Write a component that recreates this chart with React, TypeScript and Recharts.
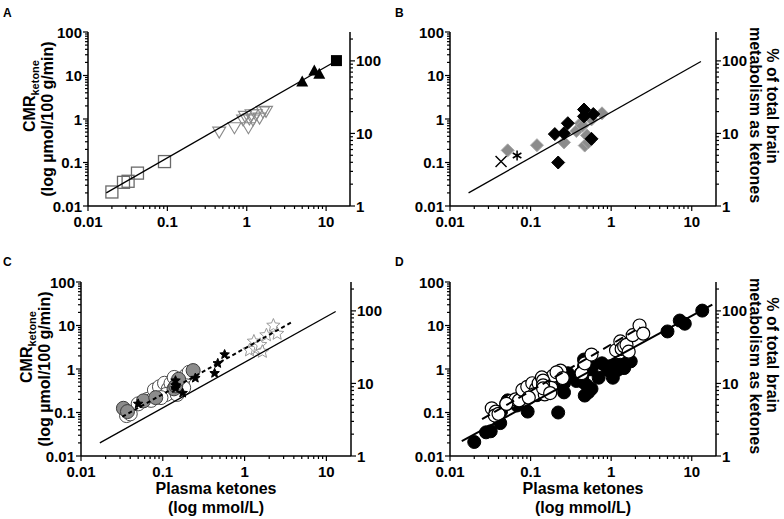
import React from 'react';
import { ScatterChart, Scatter, XAxis, YAxis, Label } from 'recharts';

type Pt = [number, number];

// Panel A
const aOpenSquares: Pt[] = [[0.02, 0.021], [0.028, 0.035], [0.032, 0.037], [0.042, 0.057], [0.092, 0.105]];
const aOpenTriangles: Pt[] = [
  [0.45, 0.5], [0.7, 0.63], [0.9, 0.95], [0.95, 1.15], [1.05, 0.63], [1.08, 1.0],
  [1.15, 1.25], [1.2, 0.95], [1.3, 1.25], [1.45, 1.05], [1.6, 1.45], [1.75, 1.5],
];
const aFilledTriangles: Pt[] = [[5, 7.3], [7.1, 13], [8.2, 11]];
const aFilledSquares: Pt[] = [[13.5, 22]];

// Panel B
const bBlackDiamonds: Pt[] = [
  [0.2, 0.45], [0.22, 0.1], [0.26, 0.47], [0.29, 0.8], [0.46, 1.65], [0.46, 1.15], [0.6, 1.3], [0.57, 0.35],
];
const bGrayDiamonds: Pt[] = [
  [0.052, 0.19], [0.12, 0.25], [0.26, 0.29], [0.37, 0.53], [0.42, 0.8], [0.44, 0.7],
  [0.47, 0.245], [0.5, 0.42], [0.52, 0.29], [0.57, 0.98], [0.77, 1.35],
];
const bCross: Pt[] = [[0.043, 0.105]];
const bAsterisk: Pt[] = [[0.068, 0.145]];

// Panel C
const cGrayCircles: Pt[] = [
  [0.033, 0.125], [0.037, 0.105], [0.058, 0.185], [0.082, 0.22], [0.137, 0.35], [0.144, 0.41], [0.156, 0.58], [0.235, 0.92],
];
const cOpenCircles: Pt[] = [
  [0.036, 0.085], [0.04, 0.093], [0.05, 0.158], [0.065, 0.2], [0.072, 0.19], [0.079, 0.33], [0.091, 0.39],
  [0.105, 0.47], [0.117, 0.35], [0.126, 0.47], [0.132, 0.29], [0.158, 0.35], [0.174, 0.52], [0.19, 0.7],
  [0.21, 0.84], [0.11, 0.26], [0.095, 0.22], [0.15, 0.26], [0.18, 0.37], [0.138, 0.64],
];
const cBlackStars: Pt[] = [
  [0.05, 0.158], [0.143, 0.54], [0.143, 0.42], [0.143, 0.36], [0.175, 0.28], [0.25, 0.62], [0.43, 0.8], [0.47, 1.35], [0.57, 2.15],
];
const cOpenStars: Pt[] = [
  [1.15, 2.7], [1.3, 4.3], [1.35, 2.9], [1.45, 3.3], [1.55, 3.6], [1.65, 2.5], [1.85, 6.0], [2.25, 10], [2.5, 6.5],
];

// regression lines (end points)
const solidFit: Pt[] = [[0.017, 0.02], [13, 21]];
const cDashedFit: Pt[] = [[0.032, 0.08], [3.8, 12]];
const dSolidFit: Pt[] = [[0.014, 0.022], [18, 30]];
const dDashedFit: Pt[] = [[0.025, 0.07], [2.3, 9]];

// Panel D pools the data of A+B (filled) and C (open)
const dFilled: Pt[] = [...aOpenSquares, ...aOpenTriangles, ...aFilledTriangles, ...aFilledSquares,
  ...bBlackDiamonds, ...bGrayDiamonds, ...bCross, ...bAsterisk];
const dOpen: Pt[] = [...cGrayCircles, ...cOpenCircles, ...cBlackStars, ...cOpenStars];

const xTicks = [0.01, 0.02, 0.03, 0.04, 0.05, 0.06, 0.07, 0.08, 0.09, 0.1, 0.2, 0.3, 0.4, 0.5, 0.6, 0.7, 0.8, 0.9, 1, 2, 3, 4, 5, 6, 7, 8, 9, 10];
const xMajor = [0.01, 0.1, 1, 10];
const leftTicks = [0.01, 0.02, 0.03, 0.04, 0.05, 0.06, 0.07, 0.08, 0.09, 0.1, 0.2, 0.3, 0.4, 0.5, 0.6, 0.7, 0.8, 0.9,
  1, 2, 3, 4, 5, 6, 7, 8, 9, 10, 20, 30, 40, 50, 60, 70, 80, 90, 100];
const leftMajor = [0.01, 0.1, 1, 10, 100];
const rightTicks = [1, 2, 3, 4, 5, 6, 7, 8, 9, 10, 20, 30, 40, 50, 60, 70, 80, 90, 100, 200];
const rightMajor = [1, 10, 100];

const FONT = '"Liberation Sans", Arial, Helvetica, sans-serif';
const AXIS = { stroke: '#000', strokeWidth: 1.5 };

const toXY = (pts: Pt[]) => pts.map(([x, y]) => ({ x, y }));

const tickText = { fontFamily: FONT, fontWeight: 700, fontSize: 15, fill: '#000' } as const;

const XTick = (props: any) => {
  const { x, y, payload } = props;
  const major = xMajor.includes(payload.value);
  return (
    <g>
      <line x1={x} x2={x} y1={y} y2={y + (major ? 5 : 3)} stroke="#000" strokeWidth={1.2} />
      {major && <text x={x} y={y + 21} textAnchor="middle" {...tickText}>{String(payload.value)}</text>}
    </g>
  );
};

const LeftTick = (props: any) => {
  const { x, y, payload } = props;
  const major = leftMajor.includes(payload.value);
  return (
    <g>
      <line x1={x} x2={x - (major ? 5 : 3)} y1={y} y2={y} stroke="#000" strokeWidth={1.2} />
      {major && <text x={x - 6} y={y + 5.5} textAnchor="end" {...tickText}>{String(payload.value)}</text>}
    </g>
  );
};

const RightTick = (props: any) => {
  const { x, y, payload } = props;
  const major = rightMajor.includes(payload.value);
  return (
    <g>
      <line x1={x} x2={x + (major ? 5 : 3)} y1={y} y2={y} stroke="#000" strokeWidth={1.2} />
      {major && <text x={x + 6} y={y + 5.5} textAnchor="start" {...tickText}>{String(payload.value)}</text>}
    </g>
  );
};

// marker shapes
const openSquare = ({ cx, cy }: any) => (
  <rect x={cx - 6} y={cy - 6} width={12} height={12} fill="none" stroke="#6a6a6a" strokeWidth={1.3} />
);
const openTriDown = ({ cx, cy }: any) => (
  <path d={`M${cx - 6.5},${cy - 5} L${cx + 6.5},${cy - 5} L${cx},${cy + 6} Z`} fill="none" stroke="#8a8a8a" strokeWidth={1.1} />
);
const filledTri = ({ cx, cy }: any) => (
  <path d={`M${cx},${cy - 6} L${cx + 6},${cy + 5} L${cx - 6},${cy + 5} Z`} fill="#000" />
);
const filledSquare = ({ cx, cy }: any) => (
  <rect x={cx - 5.5} y={cy - 5.5} width={11} height={11} fill="#000" />
);
const diamond = (fill: string, stroke: string) => ({ cx, cy }: any) => (
  <path d={`M${cx},${cy - 6.5} L${cx + 6.5},${cy} L${cx},${cy + 6.5} L${cx - 6.5},${cy} Z`} fill={fill} stroke={stroke} strokeWidth={1} />
);
const cross = ({ cx, cy }: any) => (
  <path d={`M${cx - 5.5},${cy - 5.5} L${cx + 5.5},${cy + 5.5} M${cx + 5.5},${cy - 5.5} L${cx - 5.5},${cy + 5.5}`} stroke="#000" strokeWidth={1.4} />
);
const asterisk = ({ cx, cy }: any) => (
  <path d={`M${cx},${cy - 5} L${cx},${cy + 5} M${cx - 4.3},${cy - 2.5} L${cx + 4.3},${cy + 2.5} M${cx - 4.3},${cy + 2.5} L${cx + 4.3},${cy - 2.5}`} stroke="#000" strokeWidth={1.5} />
);
const circle = (fill: string, stroke: string, r: number, sw = 1) => ({ cx, cy }: any) => (
  <circle cx={cx} cy={cy} r={r} fill={fill} stroke={stroke} strokeWidth={sw} />
);
const starPath = (cx: number, cy: number, R: number) => {
  let d = '';
  for (let i = 0; i < 10; i++) {
    const rr = i % 2 === 0 ? R : R * 0.45;
    const a = -Math.PI / 2 + (i * Math.PI) / 5;
    d += `${i === 0 ? 'M' : 'L'}${cx + rr * Math.cos(a)},${cy + rr * Math.sin(a)} `;
  }
  return d + 'Z';
};
const star = (fill: string, stroke: string, R: number) => ({ cx, cy }: any) => (
  <path d={starPath(cx, cy, R)} fill={fill} stroke={stroke} strokeWidth={1} />
);
const noDot = () => <g />;

const titleText = { fontFamily: FONT, fontWeight: 700, fontSize: 16, fill: '#000' } as const;

const LeftTitle = ({ x1, x2, cy1, cy2 }: { x1: number; x2: number; cy1: number; cy2: number }) => (
  <g>
    <text transform={`translate(${x1},${cy1}) rotate(-90)`} textAnchor="middle" {...titleText}>
      CMR<tspan fontSize={11} dy={4}>ketone</tspan>
    </text>
    <text transform={`translate(${x2},${cy2}) rotate(-90)`} textAnchor="middle" {...titleText}>
      (log µmol/100 g/min)
    </text>
  </g>
);

const RightTitle = ({ x1, x2, cy1, cy2 }: { x1: number; x2: number; cy1: number; cy2: number }) => (
  <g>
    <text transform={`translate(${x1},${cy1}) rotate(90)`} textAnchor="middle" {...titleText}>% of total brain</text>
    <text transform={`translate(${x2},${cy2}) rotate(90)`} textAnchor="middle" {...titleText}>metabolism as ketones</text>
  </g>
);

const BottomTitle = ({ cx }: { cx: number }) => (
  <g>
    <text x={cx} y={494} textAnchor="middle" {...titleText}>Plasma ketones</text>
    <text x={cx} y={513} textAnchor="middle" {...titleText}>(log mmol/L)</text>
  </g>
);

const Letter = ({ x, y, t }: { x: number; y: number; t: string }) => (
  <text x={x} y={y} fontFamily={FONT} fontWeight={700} fontSize={12} fill="#000">{t}</text>
);

const panelAxes = (texts: React.ReactNode) => [
  <XAxis key="x" xAxisId="x" type="number" dataKey="x" scale="log" domain={[0.01, 20]} allowDataOverflow
    ticks={xTicks} interval={0} tick={XTick} tickLine={false} tickSize={0} tickMargin={0} axisLine={AXIS} height={30}>
    <Label content={() => <g>{texts}</g>} />
  </XAxis>,
  <YAxis key="l" yAxisId="l" type="number" dataKey="y" scale="log" domain={[0.01, 100]} allowDataOverflow
    ticks={leftTicks} interval={0} tick={LeftTick} tickLine={false} tickSize={0} tickMargin={0} axisLine={AXIS} width={40} />,
  <YAxis key="r" yAxisId="r" orientation="right" type="number" scale="log" domain={[1, 250]} allowDataOverflow
    ticks={rightTicks} interval={0} tick={RightTick} tickLine={false} tickSize={0} tickMargin={0} axisLine={AXIS} width={40} />,
];

const series = (key: string, pts: Pt[], shape: any) => (
  <Scatter key={key} data={toXY(pts)} xAxisId="x" yAxisId="l" shape={shape} isAnimationActive={false} />
);

const fitLine = (key: string, pts: Pt[], width: number, dash?: string) => (
  <Scatter key={key} data={toXY(pts)} xAxisId="x" yAxisId="l" fill="#000" shape={noDot} isAnimationActive={false}
    line={{ stroke: '#000', strokeWidth: width, strokeDasharray: dash }} />
);

const W = 784;
const H = 519;
const layer: React.CSSProperties = { position: 'absolute', left: 0, top: 0 };

export default function App() {
  return (
    <div style={{ position: 'absolute', left: 0, top: 0, width: W, height: H, background: '#fff', overflow: 'hidden' }}>
      <div style={layer}>
        <ScatterChart width={W} height={H} margin={{ top: 32, right: 394, bottom: 283, left: 48 }}>
          {panelAxes(<>
            <Letter x={3} y={17} t="A" />
            <LeftTitle x1={35} x2={53} cy1={96} cy2={119} />
          </>)}
          {series('aos', aOpenSquares, openSquare)}
          {series('aot', aOpenTriangles, openTriDown)}
          {series('aft', aFilledTriangles, filledTri)}
          {series('afs', aFilledSquares, filledSquare)}
          {fitLine('afit', solidFit, 1.3)}
        </ScatterChart>
      </div>
      <div style={layer}>
        <ScatterChart width={W} height={H} margin={{ top: 32, right: 28, bottom: 283, left: 410 }}>
          {panelAxes(<>
            <Letter x={395} y={17} t="B" />
            <RightTitle x1={767} x2={750} cy1={106} cy2={115} />
          </>)}
          {series('bgd', bGrayDiamonds, diamond('#8c8c8c', '#a8a8a8'))}
          {series('bbd', bBlackDiamonds, diamond('#000', '#000'))}
          {series('bx', bCross, cross)}
          {series('ba', bAsterisk, asterisk)}
          {fitLine('bfit', solidFit, 1.3)}
        </ScatterChart>
      </div>
      <div style={layer}>
        <ScatterChart width={W} height={H} margin={{ top: 282, right: 393, bottom: 33, left: 41 }}>
          {panelAxes(<>
            <Letter x={3} y={266} t="C" />
            <LeftTitle x1={32} x2={50} cy1={347} cy2={369} />
            <BottomTitle cx={216} />
          </>)}
          {series('coc', cOpenCircles, circle('#fff', '#4a4a4a', 7))}
          {series('cgc', cGrayCircles, circle('#8c8c8c', '#3c3c3c', 7))}
          {series('cbs', cBlackStars, star('#000', '#000', 5))}
          {series('cos', cOpenStars, star('#fff', '#9a9a9a', 7))}
          {fitLine('cfit', solidFit, 1.3)}
          {fitLine('cdash', cDashedFit, 2, '4 3')}
        </ScatterChart>
      </div>
      <div style={layer}>
        <ScatterChart width={W} height={H} margin={{ top: 282, right: 28, bottom: 33, left: 410 }}>
          {panelAxes(<>
            <Letter x={395} y={266} t="D" />
            <RightTitle x1={767} x2={750} cy1={355} cy2={366} />
            <BottomTitle cx={583} />
          </>)}
          {series('dfc', dFilled, circle('#000', '#000', 6.5))}
          {series('doc', dOpen, circle('#fff', '#000', 6.5, 1.2))}
          {fitLine('dfit', dSolidFit, 2)}
          {fitLine('ddash', dDashedFit, 2, '9 5')}
        </ScatterChart>
      </div>
    </div>
  );
}
